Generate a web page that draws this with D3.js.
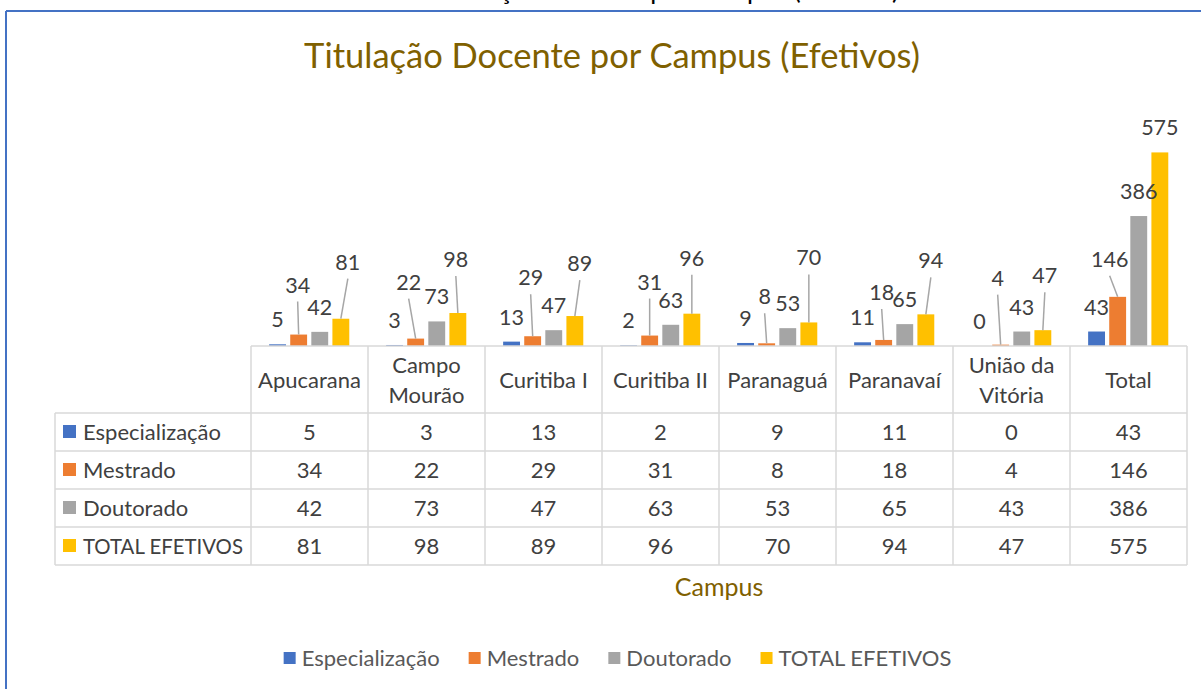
<!DOCTYPE html>
<html>
<head>
<meta charset="utf-8">
<script src="https://cdn.jsdelivr.net/npm/d3@7"></script>
<style>
  html, body { margin: 0; padding: 0; background: #fff; }
  svg { display: block; font-family: Lato, "Open Sans", sans-serif; }
</style>
</head>
<body>
<svg id="chart" width="1201" height="689"></svg>
<script>
// ---------------- DATA ----------------
const categories = ["Apucarana", "Campo Mourão", "Curitiba I", "Curitiba II", "Paranaguá", "Paranavaí", "União da Vitória", "Total"];
const seriesNames = ["Especialização", "Mestrado", "Doutorado", "TOTAL EFETIVOS"];
const especializacao = [5, 3, 13, 2, 9, 11, 0, 43];
const mestrado = [34, 22, 29, 31, 8, 18, 4, 146];
const doutorado = [42, 73, 47, 63, 53, 65, 43, 386];
const totalEfetivos = [81, 98, 89, 96, 70, 94, 47, 575];
const chartTitle = "Titulação Docente por Campus (Efetivos)";
const axisTitle = "Campus";

// ---------------- LAYOUT / STYLE ----------------
const colors = ["#4472C4", "#ED7D31", "#A5A5A5", "#FFC000"];
const seriesValues = [especializacao, mestrado, doutorado, totalEfetivos];
// manual nudges of data labels (dx, dy in px) as placed in the original chart
const labelNudges = [
  categories.map(() => [0, 0]),
  [[-1, -25], [-7, -32], [-2, -34], [0, -29], [-2, -22], [-2, -23], [-3, -42], [-8, -13]],
  categories.map(() => [0, 0]),
  [[7, -32], [-2, -29], [5, -28], [0, -31], [0, -40], [5, -29], [2, -30], [0, 0]]
];

const svg = d3.select("#chart");
const plotLeft = 251, plotRight = 1187, baseY = 346;
const headerH = 67, rowH = 38, tableLeft = 55;
const textColor = "#404040";
const gridColor = "#D9D9D9";

// frame
svg.append("line").attr("x1", 6).attr("x2", 1201).attr("y1", 11).attr("y2", 11)
  .attr("stroke", "#4472C4").attr("stroke-width", 2);
svg.append("line").attr("x1", 6).attr("x2", 6).attr("y1", 11).attr("y2", 689)
  .attr("stroke", "#4472C4").attr("stroke-width", 2);

// heading of the page above the frame, cut off by the screenshot (only descenders visible)
svg.append("text").attr("x", 667).attr("y", -1.5).attr("text-anchor", "middle")
  .attr("font-size", 26).attr("fill", "#000").text(chartTitle);

// title
svg.append("text").attr("x", 612).attr("y", 68).attr("text-anchor", "middle")
  .attr("font-size", 34.5).attr("fill", "#7F6000").text(chartTitle);

// scales
const x = d3.scaleBand().domain(categories).range([plotLeft, plotRight]).padding(0);
const cw = x.bandwidth();
const xs = d3.scaleBand().domain(seriesNames).range([cw * 0.155, cw * 0.84]).paddingInner(0.2).paddingOuter(0);
const y = d3.scaleLinear().domain([0, 600]).range([baseY, 144]);

// bars
const barData = [];
seriesNames.forEach((s, si) => {
  categories.forEach((c, ci) => {
    barData.push({ s, si, c, ci, v: seriesValues[si][ci] });
  });
});

svg.append("g").selectAll("rect").data(barData).join("rect")
  .attr("x", d => x(d.c) + xs(d.s))
  .attr("width", xs.bandwidth())
  .attr("y", d => y(d.v))
  .attr("height", d => baseY - y(d.v))
  .attr("fill", d => colors[d.si]);

// data labels + leader lines
const labelGap = 17;
const lg = svg.append("g");
barData.forEach(d => {
  const cx = x(d.c) + xs(d.s) + xs.bandwidth() / 2;
  const top = y(d.v);
  const [dx, dy] = labelNudges[d.si][d.ci];
  const lx = cx + dx, ly = top - labelGap + dy;
  if (dy !== 0) {
    lg.append("line").attr("x1", lx).attr("y1", ly + 9).attr("x2", cx).attr("y2", top)
      .attr("stroke", "#A6A6A6").attr("stroke-width", 1.5);
  }
  lg.append("text").attr("x", lx).attr("y", ly).attr("text-anchor", "middle")
    .attr("font-size", 21.5).attr("fill", textColor).text(d.v);
});

// ---------------- DATA TABLE ----------------
const tg = svg.append("g");
const tableBottom = baseY + headerH + rowH * seriesNames.length;
tg.append("line").attr("x1", plotLeft).attr("x2", plotRight).attr("y1", baseY).attr("y2", baseY)
  .attr("stroke", gridColor).attr("stroke-width", 1.5);
const bounds = categories.map(c => x(c)).concat([plotRight]);
bounds.forEach(bx => {
  tg.append("line").attr("x1", bx).attr("x2", bx).attr("y1", baseY).attr("y2", tableBottom)
    .attr("stroke", gridColor).attr("stroke-width", 1.5);
});
tg.append("line").attr("x1", tableLeft).attr("x2", tableLeft).attr("y1", baseY + headerH).attr("y2", tableBottom)
  .attr("stroke", gridColor).attr("stroke-width", 1.5);
for (let r = 0; r <= seriesNames.length; r++) {
  const ry = baseY + headerH + r * rowH;
  tg.append("line").attr("x1", tableLeft).attr("x2", plotRight).attr("y1", ry).attr("y2", ry)
    .attr("stroke", gridColor).attr("stroke-width", 1.5);
}

// header labels (wrap)
const fsTable = 22;
categories.forEach(c => {
  const t = tg.append("text").attr("text-anchor", "middle").attr("font-size", fsTable).attr("fill", textColor);
  const words = c.split(" ");
  const lines = [];
  let cur = "";
  words.forEach(w => {
    const test = cur ? cur + " " + w : w;
    t.text(test);
    if (cur && t.node().getComputedTextLength() > cw - 8) { lines.push(cur); cur = w; }
    else cur = test;
  });
  lines.push(cur);
  t.text(null);
  const cx = x(c) + cw / 2;
  const midY = baseY + headerH / 2 + 8;
  const lh = 30;
  lines.forEach((ln, i) => {
    t.append("tspan").attr("x", cx).attr("y", midY + (i - (lines.length - 1) / 2) * lh).text(ln);
  });
});

// rows
const rowLabelMax = plotLeft - 83 - 8;
seriesNames.forEach((s, si) => {
  const rowMid = baseY + headerH + si * rowH + rowH / 2;
  tg.append("rect").attr("x", 63).attr("y", rowMid - 7).attr("width", 13).attr("height", 13).attr("fill", colors[si]);
  const rl = tg.append("text").attr("x", 83).attr("y", rowMid + 7.5).attr("font-size", fsTable).attr("fill", textColor).text(s);
  const rw = rl.node().getComputedTextLength();
  if (rw > rowLabelMax) rl.attr("font-size", fsTable * rowLabelMax / rw);
  categories.forEach((c, ci) => {
    tg.append("text").attr("x", x(c) + cw / 2).attr("y", rowMid + 7.5).attr("text-anchor", "middle")
      .attr("font-size", fsTable).attr("fill", textColor).text(seriesValues[si][ci]);
  });
});

// axis title
svg.append("text").attr("x", (plotLeft + plotRight) / 2).attr("y", 596).attr("text-anchor", "middle")
  .attr("font-size", 25).attr("fill", "#7F6000").text(axisTitle);

// ---------------- LEGEND ----------------
const leg = svg.append("g");
const items = [];
let cursor = 0;
seriesNames.forEach((s, si) => {
  const g = leg.append("g");
  g.append("rect").attr("x", 0).attr("y", -6).attr("width", 12).attr("height", 12).attr("fill", colors[si]);
  const t = g.append("text").attr("x", 18).attr("y", 8).attr("font-size", 22).attr("fill", "#595959").text(s);
  const w = 18 + t.node().getComputedTextLength();
  items.push({ g, off: cursor });
  cursor += w + 29;
});
const totalW = cursor - 29;
const legStart = 617.5 - totalW / 2;
items.forEach(it => it.g.attr("transform", `translate(${legStart + it.off},658)`));
</script>
</body>
</html>
